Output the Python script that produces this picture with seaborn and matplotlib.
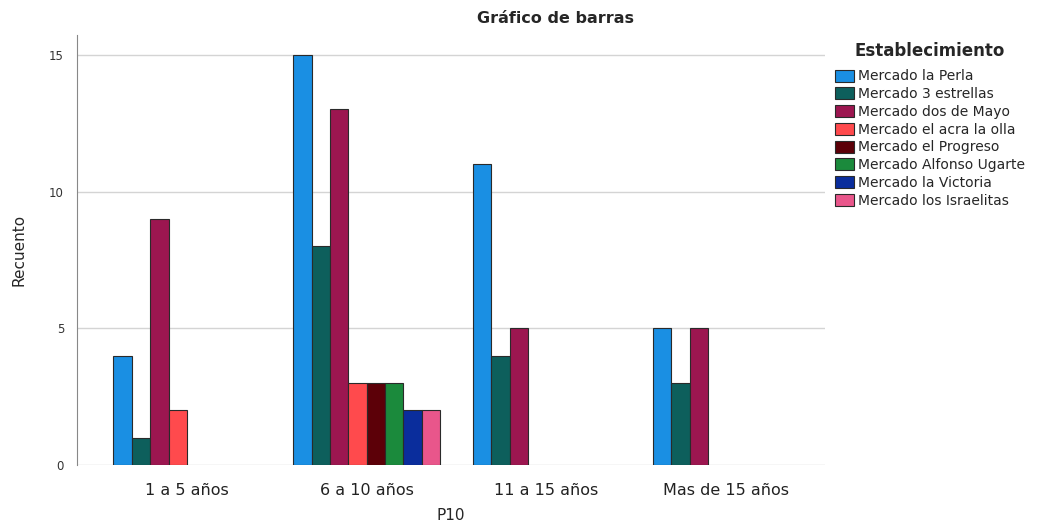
import matplotlib
matplotlib.use("Agg")
import matplotlib.pyplot as plt
import pandas as pd
import seaborn as sns

# counts per age group (P10) and market
grupos = ['1 a 5 años', '6 a 10 años', '11 a 15 años', 'Mas de 15 años']
mercados = ['Mercado la Perla', 'Mercado 3 estrellas', 'Mercado dos de Mayo',
            'Mercado el acra la olla', 'Mercado el Progreso', 'Mercado Alfonso Ugarte',
            'Mercado la Victoria', 'Mercado los Israelitas']
colores = ['#1a8fe3', '#0d5f5c', '#9c1650', '#ff4a4d', '#5c0008', '#1b8a3c', '#0a2d9c', '#e9568b']

recuento_1a5 = [4, 1, 9, 2, None, None, None, None]
recuento_6a10 = [15, 8, 13, 3, 3, 3, 2, 2]
recuento_11a15 = [11, 4, 5, None, None, None, None, None]
recuento_mas15 = [5, 3, 5, None, None, None, None, None]

rows = []
for g, vals in zip(grupos, [recuento_1a5, recuento_6a10, recuento_11a15, recuento_mas15]):
    for m, v in zip(mercados, vals):
        if v is not None:
            rows.append({'P10': g, 'Establecimiento': m, 'Recuento': v})
df = pd.DataFrame(rows)

sns.set_style('white')
plt.rcParams['font.family'] = ['DejaVu Sans']

fig = plt.figure(figsize=(10.48, 5.27), dpi=100)
ax = fig.add_axes([0.073, 0.1176, 0.714, 0.8164])

sns.barplot(data=df, x='P10', y='Recuento', hue='Establecimiento',
            order=grupos, hue_order=mercados, palette=colores,
            width=0.817, dodge=True, edgecolor='#2a2a2a', linewidth=0.8,
            saturation=1, ax=ax, legend=True)

ax.set_ylim(0, 15.73)
ax.set_xlim(-0.614, 3.547)
ax.set_yticks([0, 5, 10, 15])
ax.yaxis.grid(True, color='#d4d4d4', linewidth=1)
ax.set_axisbelow(True)
for s in ['top', 'right', 'bottom']:
    ax.spines[s].set_visible(False)
ax.spines['left'].set_color('#888888')
ax.tick_params(axis='y', labelsize=8.5, colors='#333333', length=0, pad=9)
ax.tick_params(axis='x', labelsize=11.5, colors='#222222', length=0, pad=13)
ax.set_xlabel('P10', fontsize=11, labelpad=7)
ax.set_ylabel('Recuento', fontsize=11, labelpad=16)
fig.text(0.53, 0.964, 'Gráfico de barras', fontsize=11.5, fontweight='bold',
         ha='center', va='center')

leg = ax.legend(title='Establecimiento', loc='upper left', bbox_to_anchor=(1.005, 1.0),
                frameon=False, fontsize=10, title_fontsize=12,
                handlelength=1.35, handleheight=0.95, handletextpad=0.25,
                labelspacing=0.27, borderaxespad=0.1, alignment='center')
leg.get_title().set_fontweight('bold')
leg._legend_box.sep = 7

fig.savefig('out.png', dpi=100)
